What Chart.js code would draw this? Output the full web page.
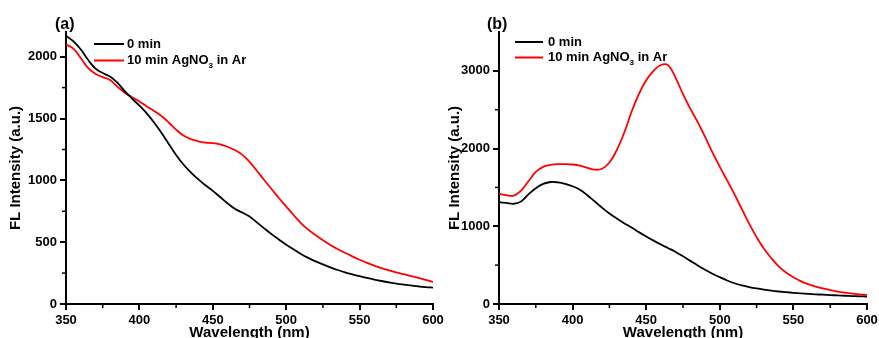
<!DOCTYPE html>
<html>
<head>
<meta charset="utf-8">
<script src="https://cdn.jsdelivr.net/npm/chart.js@4.4.1/dist/chart.umd.min.js"></script>
<style>
  html, body { margin: 0; padding: 0; background: #fff; overflow: hidden; }
  .panel { position: absolute; top: 0; }
</style>
</head>
<body>
<div class="panel" style="left:0"><canvas id="chartA" width="450" height="342"></canvas></div>
<div class="panel" style="left:440px"><canvas id="chartB" width="439" height="342"></canvas></div>
<script>
  "use strict";

  const wavelengths = [
    350, 355, 360, 365, 370, 375, 380, 385, 390, 395,
    400, 405, 410, 415, 420, 425, 430, 435, 440, 445,
    450, 455, 460, 465, 470, 475, 480, 485, 490, 495,
    500, 505, 510, 515, 520, 525, 530, 535, 540, 545,
    550, 555, 560, 565, 570, 575, 580, 585, 590, 595, 600,
  ];

  const seriesLabels = ["0 min", "10 min AgNO\u2083 in Ar"];

  // panel (a)
  const a0min = [
    2170, 2125, 2060, 1975, 1905, 1868, 1840, 1790, 1722, 1662,
    1605, 1542, 1468, 1385, 1295, 1205, 1128, 1065, 1010, 960,
    915, 865, 815, 770, 740, 708, 660, 612, 565, 522,
    480, 442, 405, 373, 345, 320, 296, 275, 256, 240,
    225, 211, 198, 186, 175, 165, 157, 150, 143, 137, 132,
  ];
  const a10min = [
    2100, 2065, 1990, 1910, 1862, 1835, 1812, 1758, 1708, 1672,
    1638, 1598, 1562, 1520, 1468, 1410, 1362, 1333, 1316, 1306,
    1302, 1292, 1272, 1245, 1208, 1150, 1078, 1003, 930, 857,
    788, 720, 655, 602, 557, 515, 478, 445, 414, 385,
    358, 333, 310, 290, 272, 256, 241, 226, 211, 196, 178,
  ];

  // panel (b)
  const b0min = [
    1310, 1300, 1290, 1320, 1410, 1490, 1545, 1570, 1565, 1545,
    1515, 1470, 1400, 1320, 1240, 1165, 1100, 1040, 985, 925,
    868, 815, 765, 718, 670, 615, 555, 495, 440, 390,
    345, 302, 267, 240, 218, 200, 185, 172, 161, 152,
    144, 137, 131, 125, 120, 115, 110, 106, 102, 99, 96,
  ];
  const b10min = [
    1420, 1400, 1395, 1460, 1580, 1700, 1765, 1790, 1800, 1800,
    1795, 1780, 1752, 1728, 1740, 1820, 1980, 2200, 2470, 2700,
    2880, 3000, 3075, 3070, 2910, 2700, 2510, 2340, 2150, 1950,
    1765, 1590, 1410, 1220, 1030, 860, 710, 590, 485, 405,
    345, 295, 255, 225, 200, 180, 160, 145, 133, 125, 118,
  ];

  const xTicks = [350, 400, 450, 500, 550, 600];
  const yTicksA = [0, 500, 1000, 1500, 2000];
  const yTicksB = [0, 1000, 2000, 3000];

  const FONT = "'Liberation Sans', Arial, sans-serif";
  Chart.defaults.font.family = FONT;
  Chart.defaults.color = "#000";

  function pts(ys) {
    return ys.map((y, i) => ({ x: wavelengths[i], y }));
  }

  // short minor ticks halfway between the labelled ones
  const minorTicks = {
    id: "minorTicks",
    afterDraw(chart) {
      const ctx = chart.ctx;
      ctx.save();
      ctx.strokeStyle = "#000";
      ctx.lineWidth = 1.5;
      for (const id of ["x", "y"]) {
        const sc = chart.scales[id];
        const vals = sc.ticks.map((t) => t.value);
        for (let i = 0; i < vals.length - 1; i++) {
          const mid = (vals[i] + vals[i + 1]) / 2;
          const p = sc.getPixelForValue(mid);
          ctx.beginPath();
          if (id === "x") {
            ctx.moveTo(p, sc.top);
            ctx.lineTo(p, sc.top + 4);
          } else {
            ctx.moveTo(sc.right, p);
            ctx.lineTo(sc.right - 4, p);
          }
          ctx.stroke();
        }
      }
      ctx.restore();
    },
  };

  // legend + panel letter drawn inside the plot, with a real subscript
  const legendInside = {
    id: "legendInside",
    afterDraw(chart, args, opts) {
      const ctx = chart.ctx;
      ctx.save();
      ctx.font = `bold 16px ${FONT}`;
      ctx.fillStyle = "#000";
      ctx.textBaseline = "middle";
      ctx.textAlign = "left";
      ctx.fillText(opts.letter, opts.letterX, 25);

      chart.data.datasets.forEach((ds, i) => {
        const y = opts.y0 + i * opts.dy;
        ctx.strokeStyle = ds.borderColor;
        ctx.lineWidth = 2;
        ctx.beginPath();
        ctx.moveTo(opts.x0, y);
        ctx.lineTo(opts.x1, y);
        ctx.stroke();

        let x = opts.tx;
        const parts = ds.label.split("\u2083");
        ctx.font = `bold 13px ${FONT}`;
        ctx.fillText(parts[0], x, y);
        x += ctx.measureText(parts[0]).width;
        if (parts.length > 1) {
          ctx.font = `bold 8px ${FONT}`;
          ctx.fillText("3", x, y + 5);
          x += ctx.measureText("3").width;
          ctx.font = `bold 13px ${FONT}`;
          ctx.fillText(parts[1], x, y);
        }
      });
      ctx.restore();
    },
  };

  function makeChart(id, s0, s10, yMax, yTicks, yWidth, padRight, legendOpts) {
    const ctx = document.getElementById(id).getContext("2d");
    return new Chart(ctx, {
      type: "line",
      data: {
        datasets: [
          { label: seriesLabels[0], data: pts(s0), borderColor: "#000000" },
          { label: seriesLabels[1], data: pts(s10), borderColor: "#ff0000" },
        ],
      },
      options: {
        responsive: false,
        animation: false,
        devicePixelRatio: 1,
        layout: { padding: { left: 0, top: 32, right: padRight, bottom: 0 } },
        elements: {
          line: { borderWidth: 1.8, tension: 0.4 },
          point: { radius: 0 },
        },
        scales: {
          x: {
            type: "linear",
            min: 350,
            max: 600,
            afterBuildTicks: (sc) => { sc.ticks = xTicks.map((v) => ({ value: v })); },
            afterFit: (sc) => { sc.height = 38; sc.paddingLeft = 0; sc.paddingRight = 0; },
            border: { display: true, color: "#000", width: 2 },
            grid: { drawOnChartArea: false, drawTicks: true, tickLength: 6, color: "#000", lineWidth: 2 },
            ticks: { padding: 3, maxRotation: 0, font: { size: 13, weight: "bold" }, callback: (v) => String(v) },
            title: {
              display: true,
              text: "Wavelength (nm)",
              font: { size: 15, weight: "bold" },
              padding: { top: 0, bottom: 0 },
            },
          },
          y: {
            min: 0,
            max: yMax,
            afterBuildTicks: (sc) => { sc.ticks = yTicks.map((v) => ({ value: v })); },
            afterFit: (sc) => { sc.width = yWidth; sc.paddingTop = 0; sc.paddingBottom = 0; },
            border: { display: true, color: "#000", width: 2 },
            grid: { drawOnChartArea: false, drawTicks: true, tickLength: 6, color: "#000", lineWidth: 2 },
            ticks: { padding: 3, font: { size: 13, weight: "bold" }, callback: (v) => String(v) },
            title: {
              display: true,
              text: "FL Intensity (a.u.)",
              font: { size: 15, weight: "bold" },
              padding: { top: legendOpts.titlePad, bottom: 0 },
            },
          },
        },
        plugins: {
          legend: { display: false },
          tooltip: { enabled: false },
          legendInside: legendOpts,
        },
      },
      plugins: [minorTicks, legendInside],
    });
  }

  makeChart("chartA", a0min, a10min, 2200, yTicksA, 66, 17, {
    letter: "(a)", letterX: 55, titlePad: 7,
    x0: 94, x1: 124, tx: 127, y0: 44, dy: 16.5,
  });
  makeChart("chartB", b0min, b10min, 3500, yTicksB, 59, 12, {
    letter: "(b)", letterX: 47, titlePad: 6,
    x0: 75, x1: 103, tx: 108, y0: 42, dy: 15.5,
  });
</script>
</body>
</html>
